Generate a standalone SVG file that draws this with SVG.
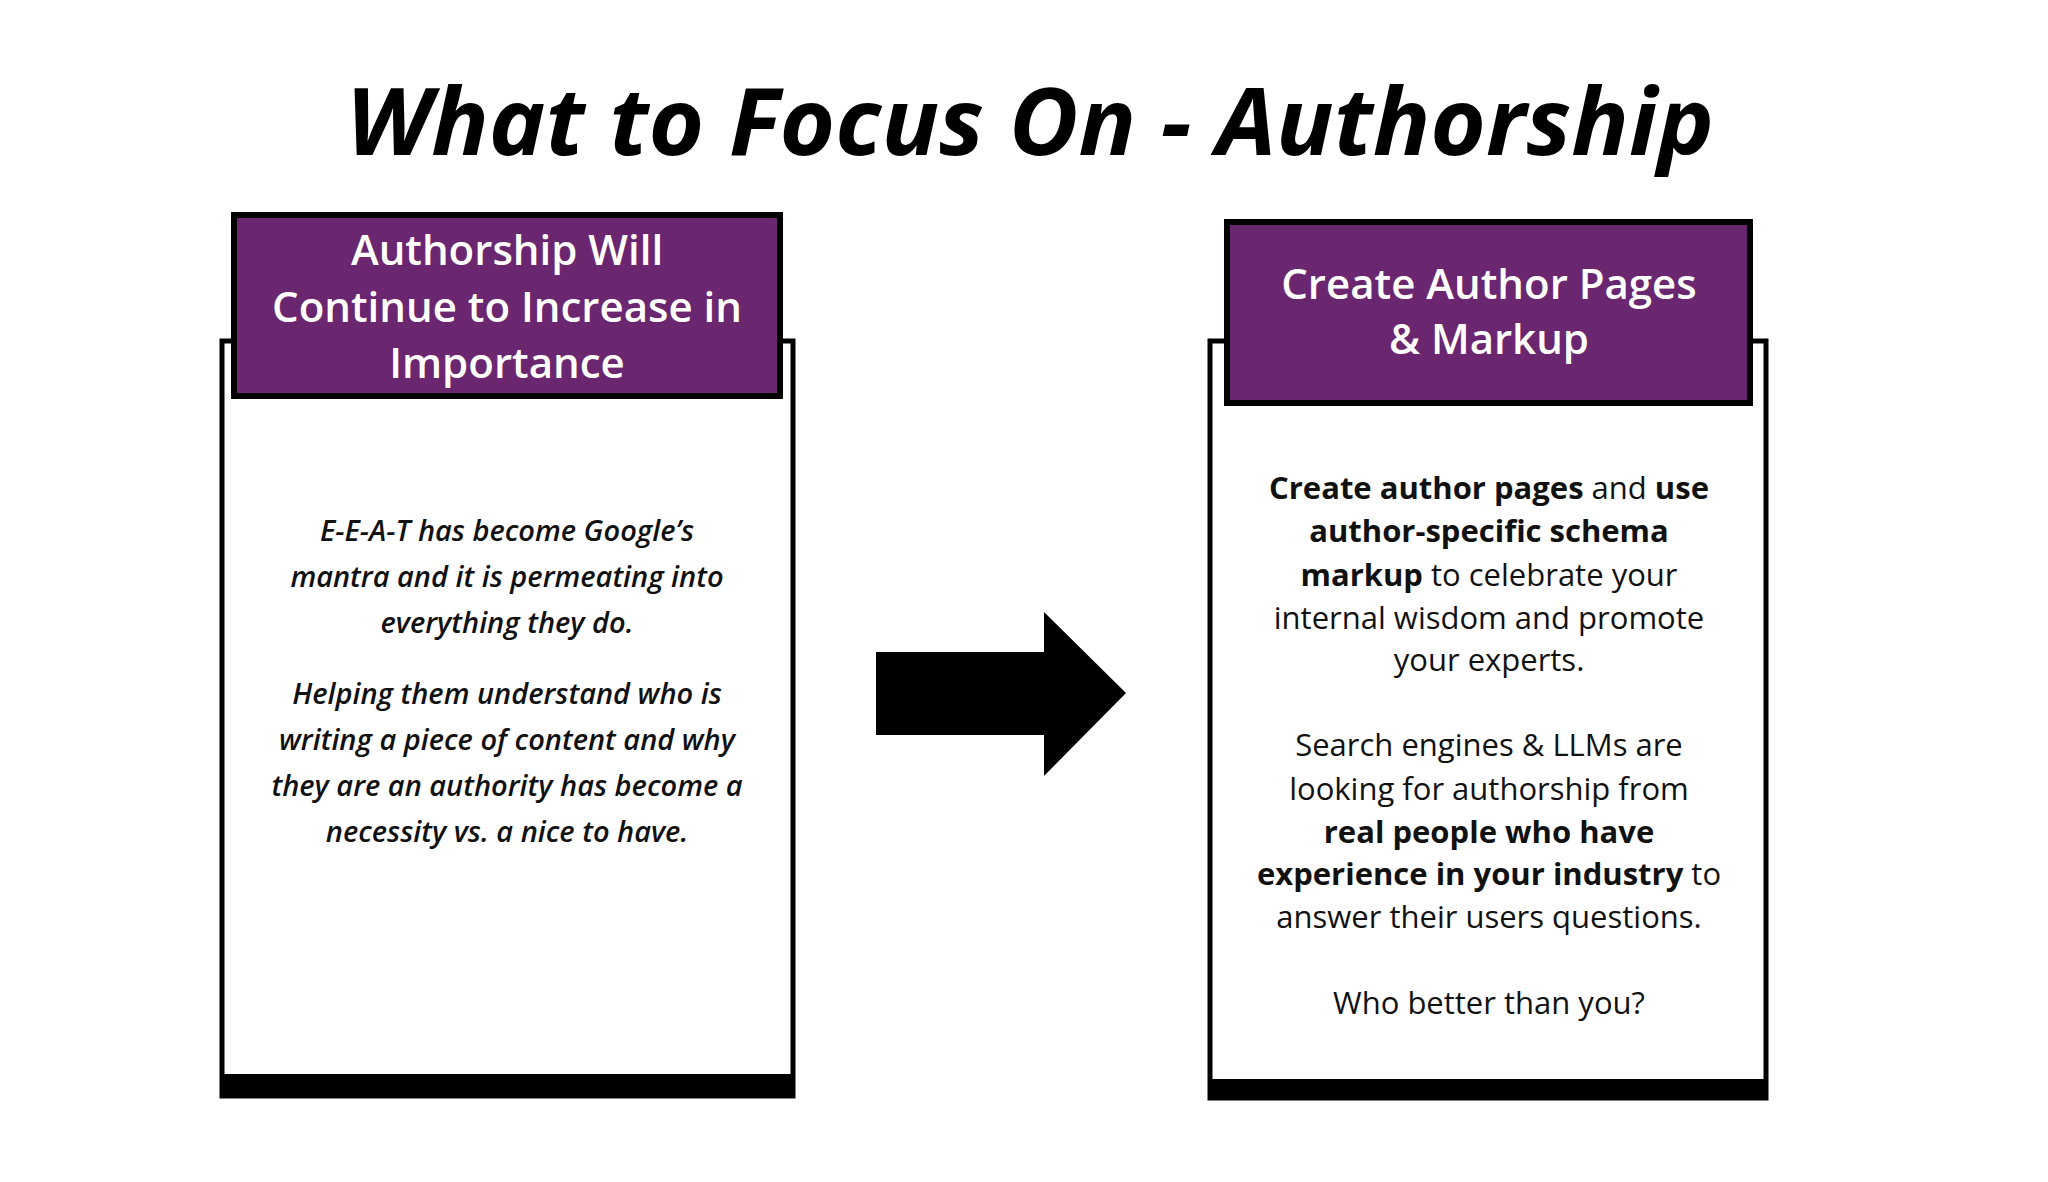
<svg xmlns="http://www.w3.org/2000/svg" width="2048" height="1182" viewBox="0 0 2048 1182">
<style>
.card{fill:#fff;stroke:#000;stroke-width:5}
.bar{fill:#000}
.hdr{fill:#6b2670;stroke:#000;stroke-width:6}
.ht{font-family:"Open Sans","Noto Sans",sans-serif;font-weight:600;font-size:42px;fill:#fff;text-anchor:middle}
.lt{font-family:"Open Sans","Noto Sans",sans-serif;font-weight:600;font-style:italic;font-size:29px;fill:#111;text-anchor:middle}
.rt{font-family:"Open Sans","Noto Sans",sans-serif;font-weight:400;font-size:31px;fill:#111;text-anchor:middle}
.b{font-weight:700}
</style>
<rect width="2048" height="1182" fill="#fff"/>
<text x="1030" y="155" font-family="'Open Sans','Noto Sans',sans-serif" font-weight="700" font-style="italic" font-size="94" fill="#000" text-anchor="middle" textLength="1368" lengthAdjust="spacingAndGlyphs">What to Focus On - Authorship</text>
<g id="node-left">
<rect class="card" x="222" y="341" width="571" height="755"/>
<rect class="bar" x="220" y="1074" width="575" height="24"/>
<rect class="hdr" x="234" y="215" width="546" height="181"/>
<text class="ht" x="507" y="265">Authorship Will</text>
<text class="ht" x="507" y="322">Continue to Increase in</text>
<text class="ht" x="507" y="378">Importance</text>
<text class="lt" x="507" y="541">E-E-A-T has become Google’s</text>
<text class="lt" x="507" y="587">mantra and it is permeating into</text>
<text class="lt" x="507" y="633">everything they do.</text>
<text class="lt" x="507" y="704">Helping them understand who is</text>
<text class="lt" x="507" y="750">writing a piece of content and why</text>
<text class="lt" x="507" y="796">they are an authority has become a</text>
<text class="lt" x="507" y="842">necessity vs. a nice to have.</text>
</g>
<g id="node-right">
<rect class="card" x="1210" y="341" width="556" height="757"/>
<rect class="bar" x="1208" y="1079" width="560" height="21"/>
<rect class="hdr" x="1227" y="222" width="523" height="181"/>
<text class="ht" x="1489" y="299">Create Author Pages</text>
<text class="ht" x="1489" y="354">&amp; Markup</text>
<text class="rt" x="1489" y="499"><tspan class="b">Create author pages</tspan> and <tspan class="b">use</tspan></text>
<text class="rt b" x="1489" y="542">author-specific schema</text>
<text class="rt" x="1489" y="586"><tspan class="b">markup</tspan> to celebrate your</text>
<text class="rt" x="1489" y="629">internal wisdom and promote</text>
<text class="rt" x="1489" y="671">your experts.</text>
<text class="rt" x="1489" y="756">Search engines &amp; LLMs are</text>
<text class="rt" x="1489" y="800">looking for authorship from</text>
<text class="rt b" x="1489" y="843">real people who have</text>
<text class="rt" x="1489" y="885"><tspan class="b">experience in your industry</tspan> to</text>
<text class="rt" x="1489" y="928">answer their users questions.</text>
<text class="rt" x="1489" y="1014">Who better than you?</text>
</g>
<g id="connectors">
<polygon points="876,652 1044,652 1044,612 1126,693 1044,776 1044,735 876,735" fill="#000"/>
</g>
</svg>
